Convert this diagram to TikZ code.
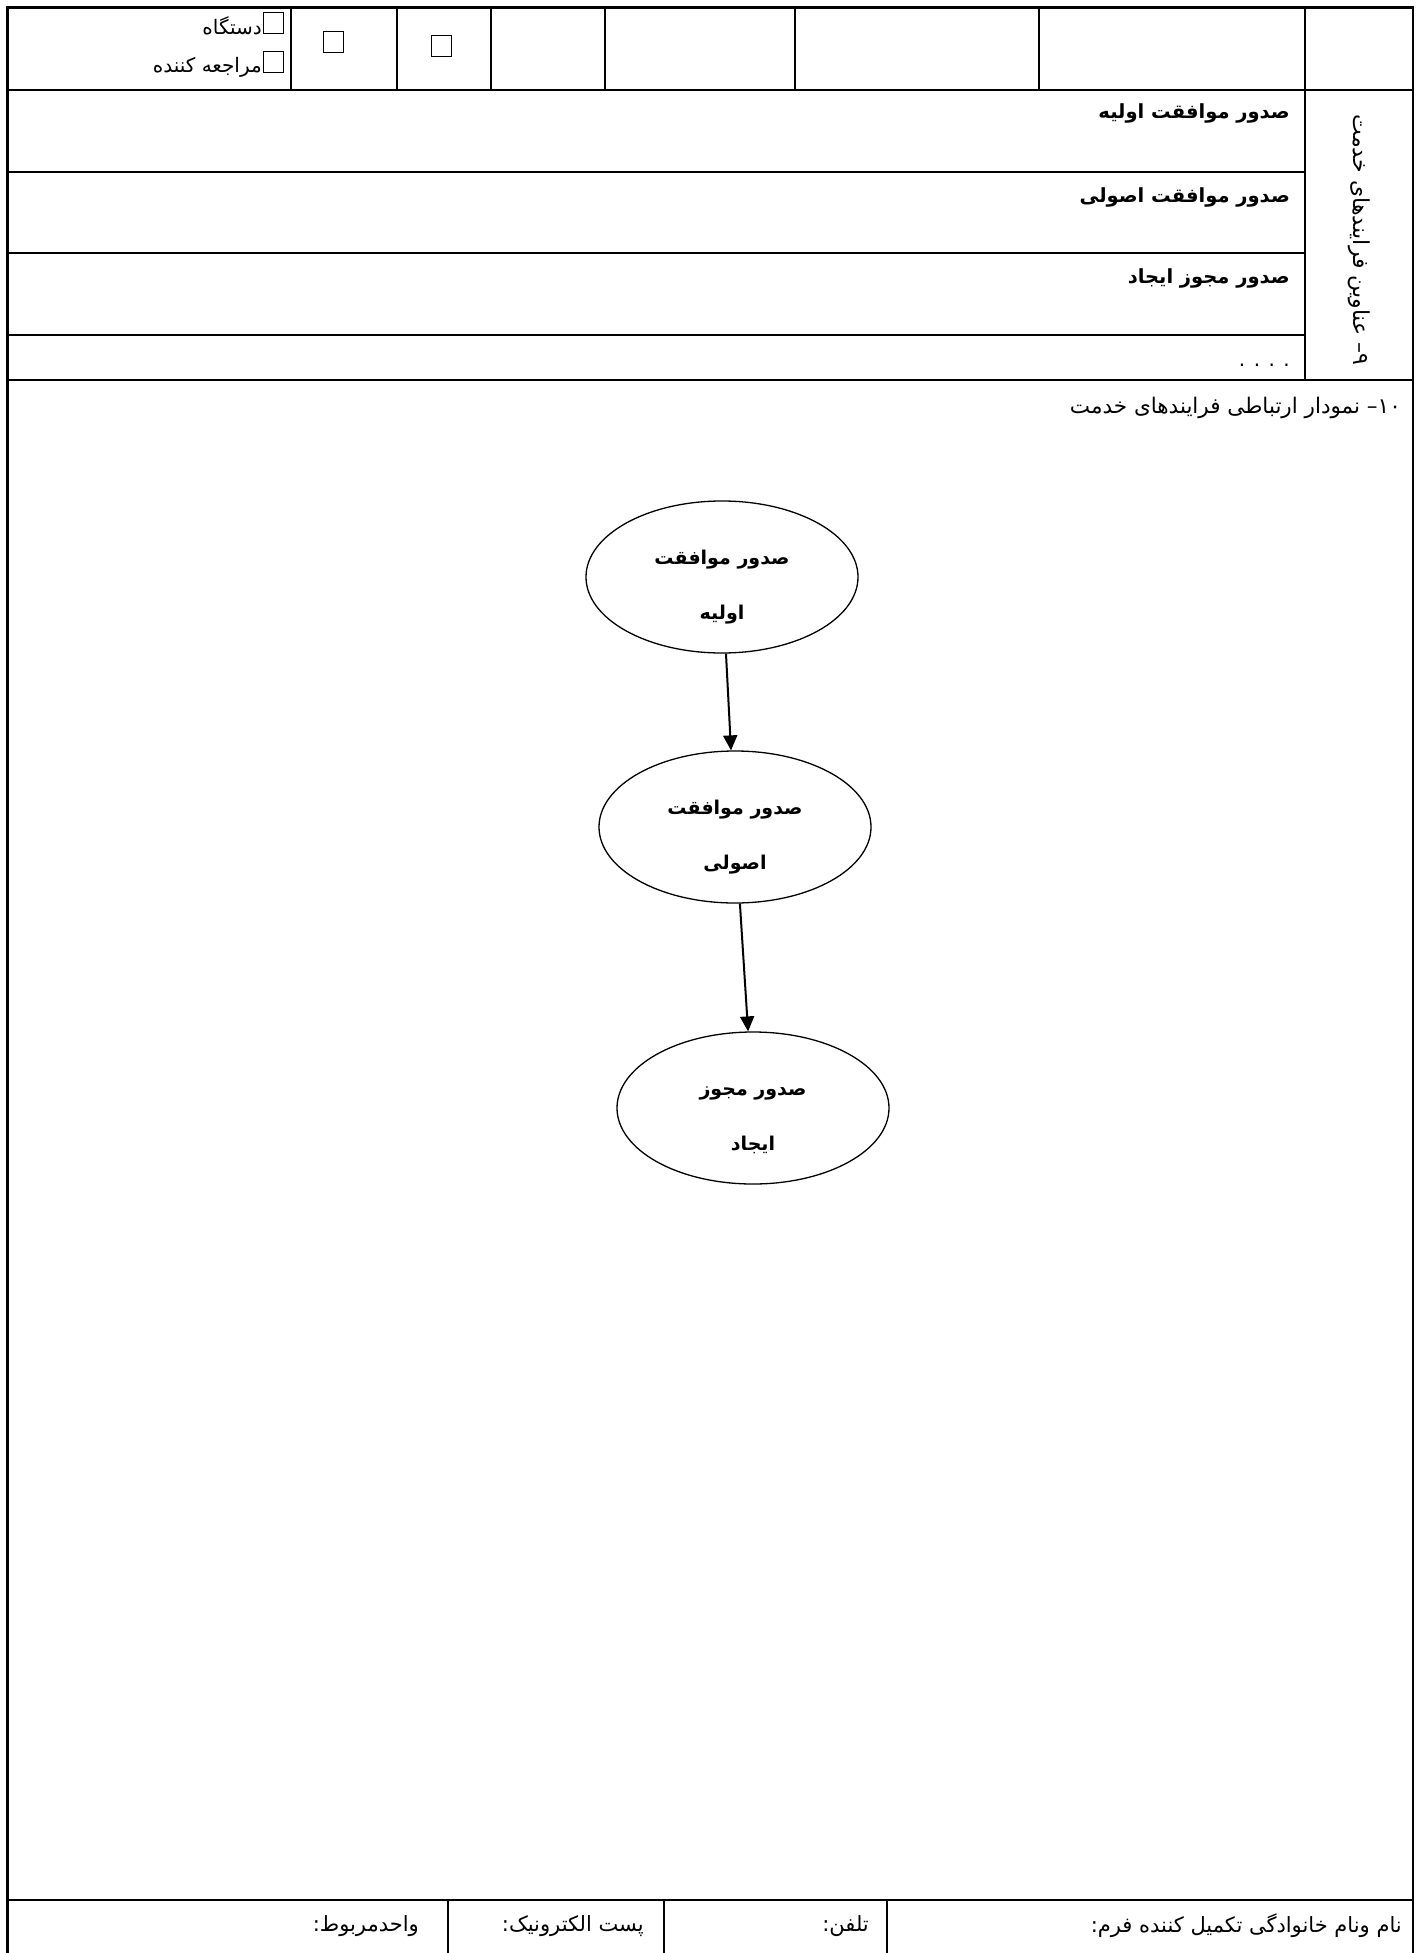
\documentclass[tikz,border=0pt]{standalone}
\usepackage{fontspec}
\setmainfont{DejaVu Sans}
\newfontfamily\fa[Script=Arabic]{DejaVu Sans}
\usetikzlibrary{shapes.geometric,arrows.meta}
\TeXXeTstate=1
\begin{document}
\begin{tikzpicture}[x=1pt,y=-1pt,
  tbl/.style={line width=2.2pt},
  chk/.style={draw,line width=1pt,minimum width=20pt,minimum height=21pt,inner sep=0pt},
  proc/.style={draw,ellipse,line width=1.3pt,minimum width=272pt,minimum height=152pt,inner sep=0pt,align=center,text height=90pt,text depth=5pt,font=\fa\bfseries\fontsize{19}{55}\selectfont},
  lbl/.style={inner sep=0pt,font=\fa\fontsize{20}{24}\selectfont},
  head/.style={inner sep=0pt,font=\fa\fontsize{21.5}{26}\selectfont},
  side/.style={inner sep=0pt,font=\fa\fontsize{22}{26}\selectfont},
  foot/.style={inner sep=0pt,font=\fa\fontsize{21}{25}\selectfont},
  bl/.style={inner sep=0pt,font=\fa\bfseries\fontsize{19.5}{24}\selectfont},
  flow/.style={line width=2pt,-{Triangle[length=15pt,width=14pt]}}
]
\useasboundingbox (0,0) rectangle (1423,1953);
% frame
\draw[tbl] (7.5,1953) -- (7.5,7.5) -- (1413,7.5) -- (1413,1953);
\draw[tbl] (7.5,90) -- (1413,90);
\draw[tbl] (7.5,172) -- (1305,172);
\draw[tbl] (7.5,253) -- (1305,253);
\draw[tbl] (7.5,335) -- (1305,335);
\draw[tbl] (7.5,380) -- (1413,380);
\draw[tbl] (7.5,1900) -- (1413,1900);
\foreach \x in {291,397,491,605,795,1039} \draw[tbl] (\x,7.5) -- (\x,90);
\draw[tbl] (1305,7.5) -- (1305,380);
\foreach \x in {448,664,887} \draw[tbl] (\x,1900) -- (\x,1953);
% top row
\node[chk] (c1) at (273,23) {};
\node[chk] (c2) at (273,62.5) {};
\node[chk] (c3) at (333,42) {};
\node[chk] (c4) at (441,46) {};
\node[lbl,anchor=base east] (t1) at (262,35) {\beginR دستگاه\endR};
\node[lbl,anchor=base east] (t2) at (262,73) {\beginR مراجعه کننده\endR};
% process rows
\node[bl,anchor=east] (r1) at (1290,113) {\beginR صدور موافقت اولیه\endR};
\node[bl,anchor=east] (r2) at (1290,197) {\beginR صدور موافقت اصولی\endR};
\node[bl,anchor=east] (r3) at (1290,278) {\beginR صدور مجوز ایجاد\endR};
\node[lbl,anchor=base east] (r4) at (1290,366) {. . . .};
\node[side,rotate=-90] (sidetxt) at (1359,240) {\beginR ۹\kern0pt– عناوین فرایندهای خدمت\endR};
% heading
\node[head,anchor=east] (heading) at (1401,408) {\beginR ۱۰\kern0pt– نمودار ارتباطی فرایندهای خدمت\endR};
% diagram
\node[proc] (e1) at (722,577) {\beginR صدور موافقت\endR\\\beginR اولیه\endR};
\node[proc] (e2) at (735,827) {\beginR صدور موافقت\endR\\\beginR اصولی\endR};
\node[proc] (e3) at (753,1108) {\beginR صدور مجوز\endR\\\beginR ایجاد\endR};
\draw[flow] (e1) -- (e2);
\draw[flow] (e2) -- (e3);
% bottom row
\node[foot,anchor=east] (b1) at (1402,1926) {\beginR نام ونام خانوادگی تکمیل کننده فرم:\endR};
\node[foot,anchor=east] (b2) at (869,1926) {\beginR تلفن:\endR};
\node[foot,anchor=east] (b3) at (644,1926) {\beginR پست الکترونیک:\endR};
\node[foot,anchor=east] (b4) at (419,1926) {\beginR واحدمربوط:\endR};
\end{tikzpicture}
\end{document}
